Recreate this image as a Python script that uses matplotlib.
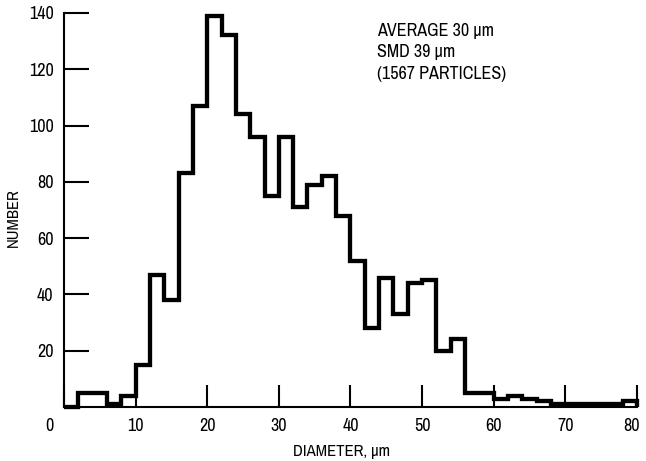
import numpy as np
import matplotlib.pyplot as plt
import matplotlib.transforms as mtransforms
from matplotlib import font_manager

# narrow lettering: use a condensed face when one is installed
fonts = font_manager.fontManager.ttflist
narrow = [f.name for f in fonts if 'Condensed' in f.name or 'Narrow' in f.name]
cond_stretch = [f.name for f in fonts if str(f.stretch) in ('condensed', 'semi-condensed', '75', '87')]
if narrow:
    family = [sorted(narrow)[0], 'DejaVu Sans']
    stretch = 'normal'
elif cond_stretch:
    family = [cond_stretch[0], 'DejaVu Sans']
    stretch = 'condensed'
else:
    family = ['DejaVu Sans']
    stretch = 'normal'
plt.rcParams['font.family'] = family
plt.rcParams['font.stretch'] = stretch

# size classes, 2 um wide
edges = [0, 2, 4, 6, 8, 10, 12, 14, 16, 18, 20, 22, 24, 26, 28, 30, 32, 34, 36, 38, 40,
         42, 44, 46, 48, 50, 52, 54, 56, 58, 60, 62, 64, 66, 68, 70, 72, 74, 76, 78, 80]
counts = [0, 5, 5, 1, 4, 15, 47, 38, 83, 107, 139, 132, 104, 96, 75, 96, 71, 79, 82, 68,
          52, 28, 46, 33, 44, 45, 20, 24, 5, 5, 3, 4, 3, 2, 1, 1, 1, 1, 1, 2]

x_ticks = [0, 10, 20, 30, 40, 50, 60, 70, 80]
y_ticks = [20, 40, 60, 80, 100, 120, 140]

notes = ['AVERAGE 30 \u03bcm', 'SMD 39 \u03bcm', '(1567 PARTICLES)']

fig = plt.figure(figsize=(6.46, 4.61), dpi=100)
ax = fig.add_axes([0.099, 0.117, 0.887, 0.855])

ax.stairs(counts, edges, color='black', linewidth=3.1, baseline=0, clip_on=False)

ax.set_xlim(0, 80)
ax.set_ylim(0, 140)
ax.set_xticks(x_ticks)
ax.set_yticks(y_ticks)

for side in ['top', 'right']:
    ax.spines[side].set_visible(False)
for side in ['left', 'bottom']:
    ax.spines[side].set_linewidth(1.5)

ax.tick_params(axis='y', direction='in', length=18, width=1.5, pad=7.5, labelsize=13)
ax.tick_params(axis='x', direction='in', length=16, width=1.5, pad=8, labelsize=13)

# nudge the end labels: zero sits left of the corner, 80 stays inside
labs = ax.get_xticklabels()
labs[0].set_transform(labs[0].get_transform() + mtransforms.ScaledTranslation(-0.15, 0, fig.dpi_scale_trans))
labs[-1].set_transform(labs[-1].get_transform() + mtransforms.ScaledTranslation(-0.05, 0, fig.dpi_scale_trans))

ax.set_xlabel('DIAMETER, \u03bcm', fontsize=12)
ax.xaxis.set_label_coords(0.485, -0.114)
ax.xaxis.label.set_va('center')
ax.set_ylabel('NUMBER', fontsize=12)
ax.yaxis.set_label_coords(-0.089, 0.48)
ax.yaxis.label.set_va('center')

for i, line in enumerate(notes):
    ax.text(0.546, 0.975 - i * 0.055, line, transform=ax.transAxes, fontsize=13,
            ha='left', va='top')

fig.savefig('out.png', dpi=100)
